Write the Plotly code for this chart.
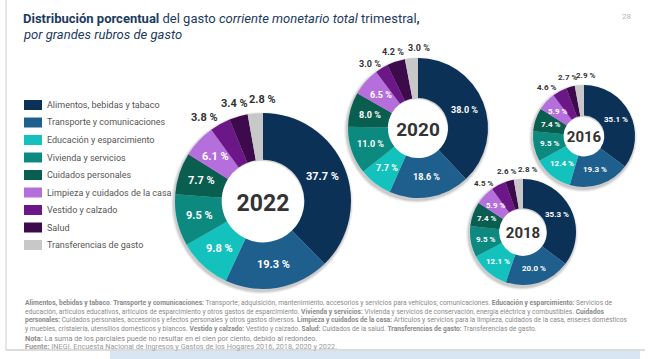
import math
import plotly.graph_objects as go

categories = ["Alimentos, bebidas y tabaco", "Transporte y comunicaciones",
              "Educación y esparcimiento", "Vivienda y servicios",
              "Cuidados personales", "Limpieza y cuidados de la casa",
              "Vestido y calzado", "Salud", "Transferencias de gasto"]
colors = ["#0b3157", "#1f5f8e", "#13c2bd", "#0d8a80", "#0a5e50",
          "#b46fdd", "#6b1787", "#3d0a4c", "#c8c8c8"]

years = ["2022", "2020", "2016", "2018"]
values_2022 = [37.7, 19.3, 9.8, 9.5, 7.7, 6.1, 3.8, 3.4, 2.8]
values_2020 = [38.0, 18.6, 7.7, 11.0, 8.0, 6.5, 3.0, 4.2, 3.0]
values_2016 = [35.1, 19.3, 12.4, 9.5, 7.4, 5.9, 4.6, 2.7, 2.9]
values_2018 = [35.3, 20.0, 12.1, 9.5, 7.4, 5.9, 4.5, 2.6, 2.8]
series = {"2022": values_2022, "2020": values_2020, "2016": values_2016, "2018": values_2018}
N_INSIDE = 6  # first six slices labelled inside, the rest outside

W, H = 651, 359
# layout of each donut: center x, center y, radius (px), hole, font sizes, label padding, spread
geom = {
    "2022": dict(cx=263, cy=201, r=88, hole=0.47, tin=11, tout=11, ty=23, pad=14, spread=1.45),
    "2020": dict(cx=418, cy=128, r=70, hole=0.43, tin=9, tout=9, ty=19, pad=10, spread=1.45),
    "2016": dict(cx=584, cy=136, r=51, hole=0.40, tin=8, tout=8, ty=15, pad=10, spread=1.7),
    "2018": dict(cx=523, cy=232, r=53, hole=0.45, tin=8, tout=8, ty=15, pad=10, spread=1.9),
}

FONT = "Roboto, Liberation Sans, Arial, sans-serif"

fig = go.Figure()

def dom(g, dx=0, dy=0, dr=0):
    cx, cy, r = g["cx"] + dx, g["cy"] + dy, g["r"] + dr
    return dict(x=[(cx - r) / W, (cx + r) / W], y=[1 - (cy + r) / H, 1 - (cy - r) / H])

def polar(g, frac, d):
    ang = 2 * math.pi * frac  # clockwise from 12 o'clock
    return g["cx"] + d * math.sin(ang), g["cy"] - d * math.cos(ang)

# soft shadows
for y in years:
    g = geom[y]
    for k, a in [(3, 0.05), (2, 0.07), (1, 0.09)]:
        fig.add_trace(go.Pie(values=[1], labels=["s"], domain=dom(g, -1, 2, k), hole=g["hole"],
                             marker=dict(colors=[f"rgba(0,0,0,{a})"], line=dict(width=0)),
                             textinfo="none", hoverinfo="skip", showlegend=False, sort=False))

annotations = []
for i, y in enumerate(years):
    g = geom[y]
    vals = series[y]
    fig.add_trace(go.Pie(
        labels=categories, values=vals, sort=False, direction="clockwise", rotation=0,
        domain=dom(g), hole=g["hole"],
        marker=dict(colors=colors, line=dict(color="white", width=0)),
        textinfo="none",
        title=dict(text=f"<b>{y}</b>", position="middle center",
                   font=dict(size=g["ty"], color="#333333", family=FONT)),
        showlegend=False, hoverinfo="label+value",
    ))
    total = sum(vals)
    cum = 0.0
    mids = []
    for j, v in enumerate(vals):
        mids.append((cum + v / 2) / total)
        cum += v
    # inside labels at the middle of the ring
    rmid = g["r"] * (1 + g["hole"]) / 2
    for j in range(N_INSIDE):
        px, py = polar(g, mids[j], rmid)
        annotations.append(dict(x=px / W, y=1 - py / H, xref="paper", yref="paper",
                                xanchor="center", yanchor="middle", showarrow=False,
                                text=f"<b>{vals[j]:.1f} %</b>",
                                font=dict(size=g["tin"], color="white", family=FONT)))
    # outside labels for the small slices, spread apart
    small = list(range(N_INSIDE, len(vals)))
    mc = mids[small[len(small) // 2]]
    for j in small:
        m = mc + (mids[j] - mc) * g["spread"]
        px, py = polar(g, m, g["r"] + g["pad"])
        annotations.append(dict(x=px / W, y=1 - py / H, xref="paper", yref="paper",
                                xanchor="center", yanchor="middle", showarrow=False,
                                text=f"<b>{vals[j]:.1f} %</b>",
                                font=dict(size=g["tout"], color="#333333", family=FONT)))

shapes = []
# legend built from categories / colors
for k, (c, col) in enumerate(zip(categories, colors)):
    yc = 105 + 17.5 * k
    shapes.append(dict(type="rect", xref="paper", yref="paper", x0=24 / W, x1=42 / W,
                       y0=1 - (yc + 5) / H, y1=1 - (yc - 5) / H, fillcolor=col, line=dict(width=0)))
    annotations.append(dict(x=45 / W, y=1 - yc / H, xref="paper", yref="paper", xanchor="left",
                            yanchor="middle", text=c, showarrow=False,
                            font=dict(size=9, color="#555555", family=FONT)))

TCOL = "#1d3b60"
annotations += [
    dict(x=21 / W, y=1 - 9 / H, xref="paper", yref="paper", xanchor="left", yanchor="top",
         text="<b>Distribución porcentual</b> del gasto <i>corriente monetario total</i> trimestral<b>,</b>",
         showarrow=False, font=dict(size=13, color=TCOL, family=FONT)),
    dict(x=21 / W, y=1 - 25 / H, xref="paper", yref="paper", xanchor="left", yanchor="top",
         text="<i>por grandes rubros de gasto</i>",
         showarrow=False, font=dict(size=13, color=TCOL, family=FONT)),
    dict(x=626 / W, y=1 - 17 / H, xref="paper", yref="paper", xanchor="center", yanchor="middle",
         text="28", showarrow=False, font=dict(size=8, color="#b5b5b5", family=FONT)),
]

foot = [
    "<b>Alimentos, bebidas y tabaco</b>. <b>Transporte y comunicaciones:</b> Transporte; adquisición, mantenimiento, accesorios y servicios para vehículos; comunicaciones. <b>Educación y esparcimiento:</b> Servicios de",
    "educación, artículos educativos, artículos de esparcimiento y otros gastos de esparcimiento. <b>Vivienda y servicios:</b> Vivienda y servicios de conservación, energía eléctrica y combustibles. <b>Cuidados</b>",
    "<b>personales:</b> Cuidados personales, accesorios y efectos personales y otros gastos diversos. <b>Limpieza y cuidados de la casa:</b> Artículos y servicios para la limpieza, cuidados de la casa, enseres domésticos",
    "y muebles, cristalería, utensilios domésticos y blancos. <b>Vestido y calzado:</b> Vestido y calzado. <b>Salud:</b> Cuidados de la salud. <b>Transferencias de gasto:</b> Transferencias de gasto.",
]
for k, t in enumerate(foot):
    annotations.append(dict(x=23 / W, y=1 - (303 + 8.6 * k) / H, xref="paper", yref="paper",
                            xanchor="left", yanchor="middle", text=t, showarrow=False,
                            font=dict(size=6.7, color="#8a8a8a", family=FONT)))
annotations.append(dict(x=23 / W, y=1 - 338 / H, xref="paper", yref="paper", xanchor="left", yanchor="middle",
                        text="<b>Nota:</b> La suma de los parciales puede no resultar en el cien por ciento, debido al redondeo.",
                        showarrow=False, font=dict(size=7.3, color="#8a8a8a", family=FONT)))
annotations.append(dict(x=23 / W, y=1 - 346 / H, xref="paper", yref="paper", xanchor="left", yanchor="middle",
                        text="<b>Fuente:</b> INEGI. Encuesta Nacional de Ingresos y Gastos de los Hogares 2016, 2018, 2020 y 2022.",
                        showarrow=False, font=dict(size=7.3, color="#9a9a9a", family=FONT)))

shapes += [
    dict(type="rect", xref="paper", yref="paper", x0=110 / W, x1=640 / W, y0=0, y1=1 - 351 / H,
         fillcolor="#d7e6f2", line=dict(width=0), layer="below"),
    dict(type="line", xref="paper", yref="paper", x0=6 / W, x1=6 / W, y0=1 - 350 / H, y1=1,
         line=dict(color="#dcdcdc", width=1.5)),
    dict(type="line", xref="paper", yref="paper", x0=6 / W, x1=645 / W, y0=1 - 350 / H, y1=1 - 350 / H,
         line=dict(color="#d0d0d0", width=1.5)),
]

fig.update_layout(
    width=W, height=H, margin=dict(l=0, r=0, t=0, b=0),
    paper_bgcolor="white", plot_bgcolor="white",
    font=dict(family=FONT, color="#555555"),
    showlegend=False,
    annotations=annotations, shapes=shapes,
)

fig.write_html("out.html", config={"displayModeBar": False},
               post_script="document.body.style.margin='0';document.body.style.overflow='hidden';")
